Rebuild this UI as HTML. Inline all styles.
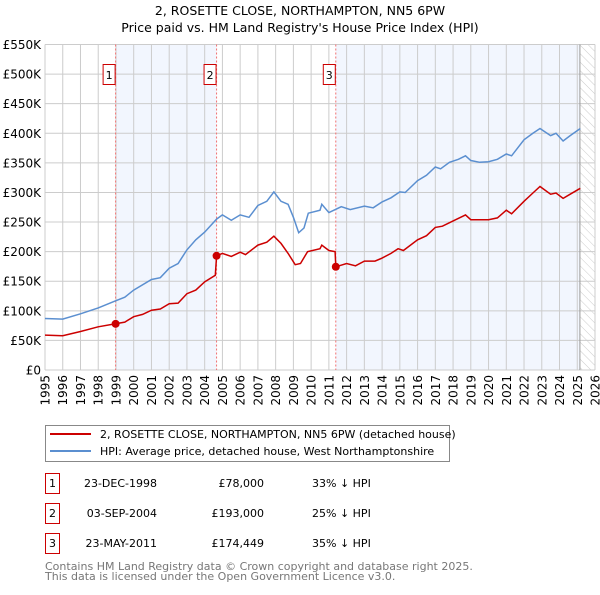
<!DOCTYPE html>
<html><head><meta charset="utf-8"><style>
body{margin:0;background:#fff;font-family:"Liberation Sans","DejaVu Sans",sans-serif;}
svg text{font-family:"DejaVu Sans","Liberation Sans",sans-serif;}
</style></head><body>
<svg id="c" width="600" height="590" xmlns="http://www.w3.org/2000/svg">
<defs><pattern id="hatch" width="6" height="6" patternUnits="userSpaceOnUse" patternTransform="rotate(-45)"><line x1="0" y1="0" x2="0" y2="6" stroke="#ccc" stroke-width="1"/></pattern></defs>
<text x="300" y="15" text-anchor="middle" font-size="12.5" fill="#000">2, ROSETTE CLOSE, NORTHAMPTON, NN5 6PW</text>
<text x="300" y="32" text-anchor="middle" font-size="12.5" fill="#000">Price paid vs. HM Land Registry's House Price Index (HPI)</text>
<g id="plot"></g>
<g>
<rect x="45.5" y="425.5" width="404" height="36" fill="#fff" stroke="#888"/>
<line x1="50" y1="434" x2="91" y2="434" stroke="#cc0000" stroke-width="2"/>
<text x="100" y="438" font-size="11">2, ROSETTE CLOSE, NORTHAMPTON, NN5 6PW (detached house)</text>
<line x1="50" y1="451" x2="91" y2="451" stroke="#5b8fd0" stroke-width="2"/>
<text x="100" y="455" font-size="11">HPI: Average price, detached house, West Northamptonshire</text>
</g>
<g id="table"></g>
<text x="45" y="570" font-size="11" fill="#777">Contains HM Land Registry data © Crown copyright and database right 2025.</text>
<text x="45" y="580" font-size="11" fill="#777">This data is licensed under the Open Government Licence v3.0.</text>
</svg>
<script>
const hpiYears=[1995,1996,1997,1998,1998.98,1999.5,2000,2001,2001.5,2002,2002.5,2003,2003.5,2004,2004.67,2005,2005.5,2006,2006.5,2007,2007.5,2007.9,2008.3,2008.7,2009,2009.3,2009.6,2009.84,2010.5,2010.6,2011,2011.7,2012.2,2013,2013.5,2014,2014.5,2015,2015.3,2016,2016.5,2017,2017.3,2017.8,2018.3,2018.7,2019,2019.5,2020,2020.5,2021,2021.3,2022,2022.5,2022.9,2023.5,2023.8,2024.2,2024.6,2025.17];
const hpiValues=[87,86,95,105,117,123,135,153,156,172,180,203,220,233,255,262,253,262,258,278,285,301,285,280,258,232,240,265,270,280,266,276,271,277,274,284,291,301,300,320,329,343,340,351,356,362,354,351,352,356,365,362,389,400,408,396,400,387,396,408];
const propYears=[1995,1996,1997,1998,1998.98,1999.5,2000,2000.5,2001,2001.5,2002,2002.5,2003,2003.5,2004,2004.6,2004.67,2005,2005.5,2006,2006.3,2007,2007.5,2007.9,2008.3,2008.7,2009.1,2009.4,2009.8,2010.5,2010.6,2011,2011.35,2011.39,2012,2012.5,2013,2013.6,2014,2014.5,2014.9,2015.2,2016,2016.5,2017,2017.4,2018,2018.5,2018.7,2019,2019.3,2020,2020.5,2021,2021.3,2022,2022.5,2022.9,2023.5,2023.8,2024.2,2024.6,2025.17];
const propValues=[59,58,65,73,78,81,90,94,101,103,112,113,129,135,149,160,193,197,192,199,195,211,216,226,214,197,178,180,200,205,211,202,200,174.449,180,176,184,184,189,197,205,202,220,227,241,243,252,259,262,254,254,254,257,270,264,285,299,310,297,299,290,297,307];
const saleYears=[1998.98,2004.67,2011.39];
const saleValues=[78,193,174.449];
const saleLabels=["1","2","3"];
const saleDates=["23-DEC-1998","03-SEP-2004","23-MAY-2011"];
const salePrices=["£78,000","£193,000","£174,449"];
const saleDiffs=["33% ↓ HPI","25% ↓ HPI","35% ↓ HPI"];
const yTicks=[0,50,100,150,200,250,300,350,400,450,500,550];
const yTickLabels=["£0","£50K","£100K","£150K","£200K","£250K","£300K","£350K","£400K","£450K","£500K","£550K"];
const xTicks=[1995,1996,1997,1998,1999,2000,2001,2002,2003,2004,2005,2006,2007,2008,2009,2010,2011,2012,2013,2014,2015,2016,2017,2018,2019,2020,2021,2022,2023,2024,2025,2026];

const L=45,R=595,T=44.5,B=370,X0=1995,X1=2026,YMAX=550,DATA_END=2025.15;
const sx=y=>L+(y-X0)/(X1-X0)*(R-L);
const sy=v=>B-v/YMAX*(B-T);
const NS="http://www.w3.org/2000/svg";
const g=document.getElementById('plot');
function mk(tag,attrs,parent){const e=document.createElementNS(NS,tag);for(const k in attrs)e.setAttribute(k,attrs[k]);(parent||g).appendChild(e);return e;}
let e;
e=mk('rect',{x:L,y:T,width:R-L,height:B-T,fill:'#fff'});


e=mk('rect',{x:sx(saleYears[0]),y:T,width:sx(saleYears[1])-sx(saleYears[0]),height:B-T,fill:'#eef3fd',opacity:0.75});


e=mk('rect',{x:sx(saleYears[2]),y:T,width:sx(DATA_END)-sx(saleYears[2]),height:B-T,fill:'#eef3fd',opacity:0.75});


e=mk('rect',{x:sx(DATA_END),y:T,width:R-sx(DATA_END),height:B-T,fill:'url(#hatch)'});


yTicks.forEach((v,i)=>{
 e=mk('line',{x1:L,x2:R,y1:sy(v),y2:sy(v),stroke:'#ccc','stroke-width':1});
 
 
 e=mk('text',{x:L-4,y:sy(v)+4.5,'text-anchor':'end','font-size':12});
 e.textContent=yTickLabels[i];
 
 
});
xTicks.forEach(y=>{
 e=mk('line',{x1:sx(y),x2:sx(y),y1:T,y2:B,stroke:'#ccc','stroke-width':1});
 
 
 e=mk('text',{x:0,y:0,'text-anchor':'end','font-size':12,transform:`translate(${sx(y)+4.5},${B+5}) rotate(-90)`});
 e.textContent=y;
 
 
});
e=mk('line',{x1:sx(DATA_END),x2:sx(DATA_END),y1:T,y2:B,stroke:'#999','stroke-width':1});


saleYears.forEach((y,i)=>{
 e=mk('line',{x1:sx(y),x2:sx(y),y1:T,y2:B,stroke:'#f07070','stroke-width':1,'stroke-dasharray':'2,2'});
 
 
});
const pts=(xs,vs)=>xs.map((x,i)=>sx(x).toFixed(1)+','+sy(vs[i]).toFixed(1)).join(' ');
e=mk('polyline',{points:pts(hpiYears,hpiValues),fill:'none',stroke:'#5b8fd0','stroke-width':1.5});


e=mk('polyline',{points:pts(propYears,propValues),fill:'none',stroke:'#cc0000','stroke-width':1.5});


saleYears.forEach((y,i)=>{
 e=mk('circle',{cx:sx(y),cy:sy(saleValues[i]),r:4,fill:'#cc0000'});
 
 
 const bx=sx(y)-13;
 e=mk('rect',{x:bx+0.5,y:64.5,width:12,height:20,fill:'#fff',stroke:'#cc0000'});
 
 
 e=mk('text',{x:bx+6.5,y:79,'text-anchor':'middle','font-size':11});
 e.textContent=saleLabels[i];
 
 
});
const tb=document.getElementById('table');
saleYears.forEach((y,i)=>{
 const cy=483+i*30;
 e=mk('rect',{x:45.5,y:cy-9.5,width:14,height:20,fill:'#fff',stroke:'#cc0000'},tb);
 
 
 e=mk('text',{x:52.5,y:cy+4,'text-anchor':'middle','font-size':11},tb);e.textContent=saleLabels[i];
 
 
 e=mk('text',{x:157,y:cy+4,'text-anchor':'end','font-size':11},tb);e.textContent=saleDates[i];
 
 
 e=mk('text',{x:264,y:cy+4,'text-anchor':'end','font-size':11},tb);e.textContent=salePrices[i];
 
 
 e=mk('text',{x:312,y:cy+4,'font-size':11},tb);e.textContent=saleDiffs[i];
 
 
});
</script>
</body></html>
